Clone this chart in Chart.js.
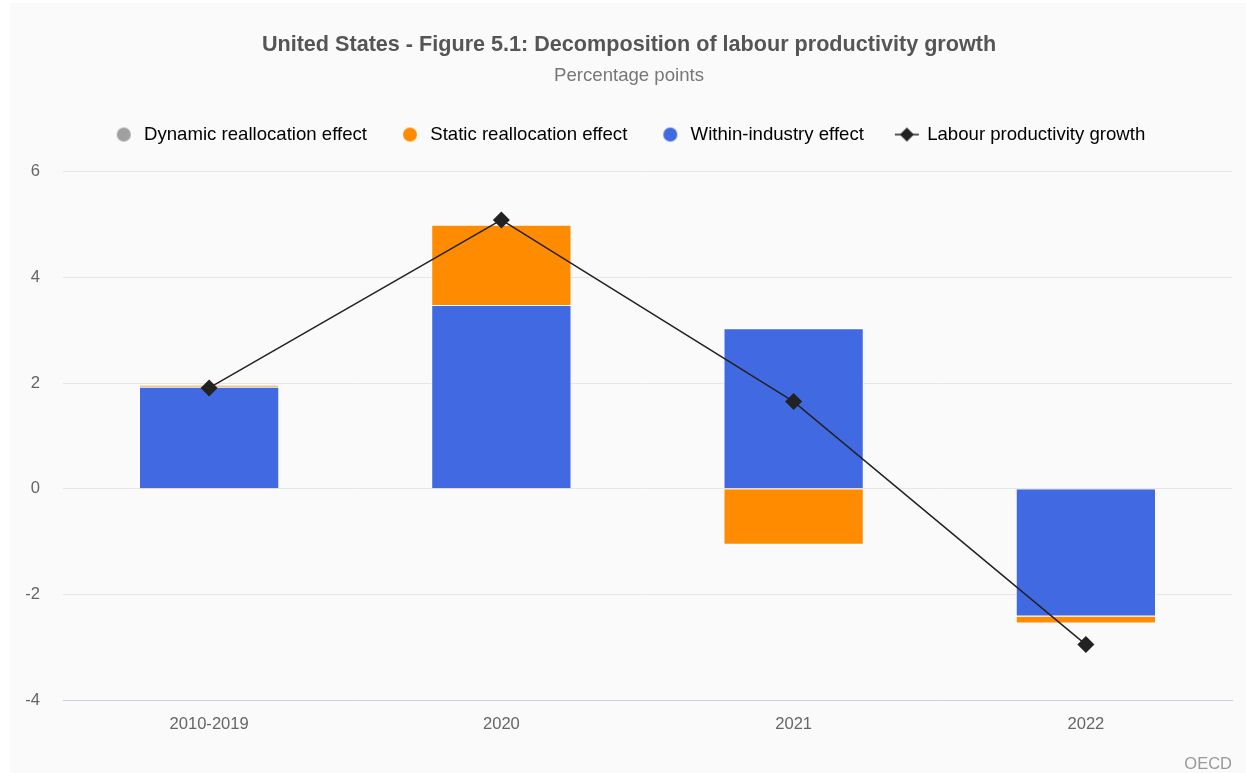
<!DOCTYPE html>
<html>
<head>
<meta charset="utf-8">
<script src="https://cdn.jsdelivr.net/npm/chart.js@4"></script>
<style>
  body { margin: 0; background: #fff; }
  #wrap { position: absolute; left: 10px; top: 3px; width: 1236px; height: 770px; background: #fafafa; }
  #src { position: absolute; right: 14px; bottom: 0px; font: 16.5px "Liberation Sans", Arial, sans-serif; color: #999; }
</style>
</head>
<body>
<div id="wrap">
  <canvas id="myChart"></canvas>
  <div id="src">OECD</div>
</div>
<script>
// values
var periods = ['2010-2019', '2020', '2021', '2022'];
var withinIndustry = [1.93, 3.48, 3.04, -2.42];
var staticRealloc = [0.04, 1.52, -1.06, -0.13];
var dynamicRealloc = [0, 0, 0, 0];
var productivityGrowth = [1.91, 5.09, 1.65, -2.95];
var yTicks = [-4, -2, 0, 2, 4, 6];

var FONT = '"Liberation Sans", Arial, sans-serif';

function dotIcon(color) {
    var c = document.createElement('canvas');
    c.width = 22; c.height = 18;
    var ctx = c.getContext('2d');
    ctx.fillStyle = color;
    ctx.beginPath();
    ctx.arc(11, 9, 7, 0, Math.PI * 2);
    ctx.fill();
    return c;
}
function lineIcon() {
    var c = document.createElement('canvas');
    c.width = 26; c.height = 18;
    var ctx = c.getContext('2d');
    ctx.strokeStyle = '#222';
    ctx.lineWidth = 1.5;
    ctx.beginPath();
    ctx.moveTo(1, 9); ctx.lineTo(25, 9);
    ctx.stroke();
    ctx.fillStyle = '#222';
    ctx.beginPath();
    ctx.moveTo(13, 2); ctx.lineTo(20, 9); ctx.lineTo(13, 16); ctx.lineTo(6, 9);
    ctx.closePath();
    ctx.fill();
    return c;
}

var legendOrder = [2, 1, 0, 3]; // dataset index shown first..last
var icons = [dotIcon('#4169e1'), dotIcon('#ff8c00'), dotIcon('#a0a0a0'), lineIcon()];

var legendSpace = {
    id: 'legendSpace',
    beforeInit: function (chart) {
        var fit = chart.legend.fit;
        chart.legend.fit = function () {
            fit.bind(chart.legend)();
            this.height += 18;
        };
    }
};

var chart = new Chart(document.getElementById('myChart'), {
    type: 'bar',
    data: {
        labels: periods,
        datasets: [{
            label: 'Within-industry effect',
            data: withinIndustry,
            backgroundColor: '#4169e1',
            borderColor: '#ffffff',
            borderWidth: 1,
            stack: 'bars',
            order: 2
        }, {
            label: 'Static reallocation effect',
            data: staticRealloc,
            backgroundColor: '#ff8c00',
            borderColor: '#ffffff',
            borderWidth: 1,
            stack: 'bars',
            order: 2
        }, {
            label: 'Dynamic reallocation effect',
            data: dynamicRealloc,
            backgroundColor: '#a0a0a0',
            borderColor: '#ffffff',
            borderWidth: 0,
            stack: 'bars',
            order: 2
        }, {
            type: 'line',
            label: 'Labour productivity growth',
            data: productivityGrowth,
            borderColor: '#222',
            borderWidth: 1.5,
            backgroundColor: '#222',
            pointStyle: 'rectRot',
            pointRadius: 8.5,
            pointHoverRadius: 8.5,
            pointBorderWidth: 0,
            stack: 'line',
            order: 1
        }]
    },
    options: {
        responsive: true,
        maintainAspectRatio: false,
        animation: false,
        datasets: { bar: { barPercentage: 0.48, categoryPercentage: 1 } },
        layout: { padding: { left: 16, right: 14, top: 0, bottom: 25 } },
        plugins: {
            title: {
                display: true,
                text: 'United States - Figure 5.1: Decomposition of labour productivity growth',
                color: '#555',
                font: { family: FONT, size: 21.6, weight: 'bold' },
                padding: { top: 29, bottom: 7 }
            },
            subtitle: {
                display: true,
                text: 'Percentage points',
                color: '#777',
                font: { family: FONT, size: 18.6 },
                padding: { top: 0, bottom: 6 }
            },
            legend: {
                labels: {
                    usePointStyle: true,
                    pointStyleWidth: 22,
                    padding: 32,
                    color: '#555',
                    font: { family: FONT, size: 18.6 },
                    generateLabels: function (ch) {
                        return legendOrder.map(function (i) {
                            return {
                                text: ch.data.datasets[i].label,
                                datasetIndex: i,
                                pointStyle: icons[i],
                                fillStyle: 'transparent',
                                strokeStyle: 'transparent',
                                lineWidth: 0,
                                hidden: !ch.isDatasetVisible(i)
                            };
                        });
                    }
                }
            },
            tooltip: { enabled: false }
        },
        scales: {
            x: {
                stacked: true,
                grid: { display: false, drawTicks: false },
                border: { display: true, color: '#c9d0e6', width: 1 },
                ticks: { color: '#666', font: { family: FONT, size: 16.6 }, padding: 14 }
            },
            y: {
                stacked: true,
                min: yTicks[0],
                max: yTicks[yTicks.length - 1],
                afterBuildTicks: function (axis) {
                    axis.ticks = yTicks.map(function (v) { return { value: v }; });
                },
                afterFit: function (axis) {
                    axis.width = 37;
                },
                grid: { color: '#e6e6e6', drawTicks: false },
                border: { display: false },
                ticks: { color: '#666', font: { family: FONT, size: 16.6 }, padding: 23 }
            }
        }
    },
    plugins: [legendSpace]
});
</script>
</body>
</html>
